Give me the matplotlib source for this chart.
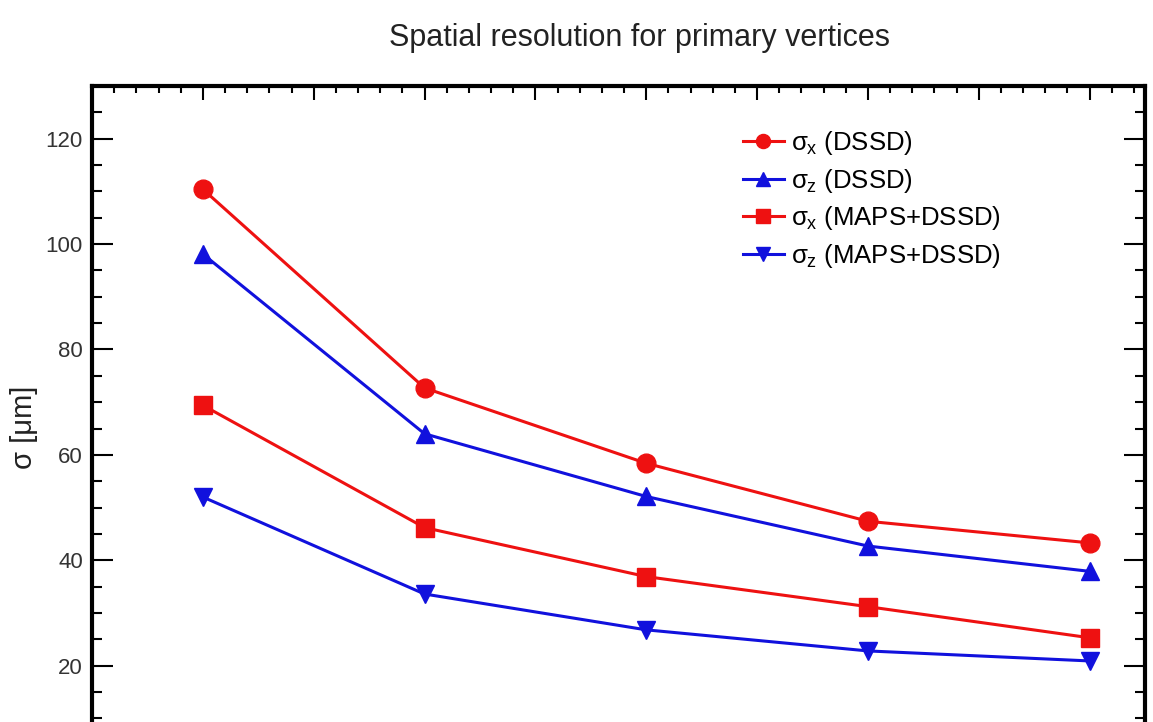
import numpy as np
import matplotlib
matplotlib.use("Agg")
import matplotlib.pyplot as plt
from matplotlib.ticker import MultipleLocator

plt.rcParams['font.family'] = ['Liberation Sans', 'DejaVu Sans']
plt.rcParams['mathtext.fontset'] = 'custom'
plt.rcParams['mathtext.rm'] = 'Liberation Sans'
plt.rcParams['mathtext.it'] = 'Liberation Sans'

# layer configurations (x axis labels are cut off in the source)
x = [1, 2, 3, 4, 5]
sx_dssd = [110.4, 72.7, 58.4, 47.4, 43.3]
sz_dssd = [98.1, 64.0, 52.1, 42.7, 37.9]
sx_maps = [69.4, 46.2, 36.9, 31.2, 25.3]
sz_maps = [52.0, 33.6, 26.8, 22.8, 20.9]
y_ticks = [20, 40, 60, 80, 100, 120]

red = '#ee1111'
blue = '#1111dd'

fig = plt.figure(figsize=(11.53, 7.22), dpi=100)
# axes runs past the bottom edge, like the cropped source
ax = fig.add_axes([0.0798, -0.068, 0.9133, 0.949])

ax.plot(x, sx_dssd, color=red, lw=2.2, marker='o', ms=13.5, label=r'$\sigma_x$ (DSSD)')
ax.plot(x, sz_dssd, color=blue, lw=2.2, marker='^', ms=13, label=r'$\sigma_z$ (DSSD)')
ax.plot(x, sx_maps, color=red, lw=2.2, marker='s', ms=12.5, label=r'$\sigma_x$ (MAPS+DSSD)')
ax.plot(x, sz_maps, color=blue, lw=2.2, marker='v', ms=13, label=r'$\sigma_z$ (MAPS+DSSD)')

ax.set_xlim(0.5, 5.25)
ax.set_ylim(0, 130)
ax.xaxis.set_major_locator(MultipleLocator(0.5))
ax.xaxis.set_minor_locator(MultipleLocator(0.1))
ax.set_yticks(y_ticks)
ax.yaxis.set_minor_locator(MultipleLocator(5))

for s in ax.spines.values():
    s.set_linewidth(3)
ax.tick_params(which='both', direction='in', top=True, right=True, width=1.5,
               labelsize=16, labelcolor='#333333', pad=6.5)
ax.tick_params(axis='x', labelbottom=False)
ax.tick_params(axis='x', which='major', length=10)
ax.tick_params(axis='x', which='minor', length=5)
ax.tick_params(axis='y', which='major', length=15)
ax.tick_params(axis='y', which='minor', length=7.5)

ax.set_ylabel('σ [μm]', fontsize=21, color='#222222')
ax.yaxis.set_label_coords(-0.051, 0.502)
fig.text(0.555, 0.947, 'Spatial resolution for primary vertices', fontsize=22,
         color='#222222', ha='center', va='center')

ax.legend(loc='upper left', bbox_to_anchor=(0.644, 0.821), bbox_transform=fig.transFigure,
          frameon=False, fontsize=18.5, handlelength=1.63, handletextpad=0.27,
          labelspacing=0.37, borderaxespad=0, borderpad=0, markerscale=0.75)

fig.savefig('out.png', dpi=100)
